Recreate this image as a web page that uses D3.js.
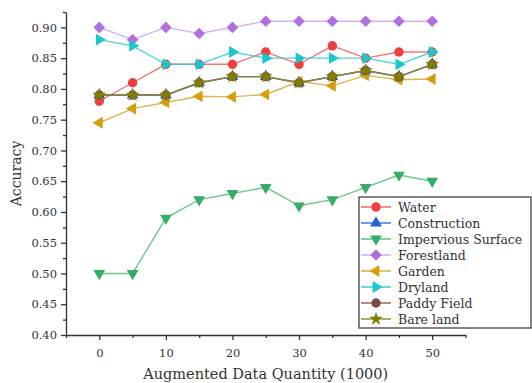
<!DOCTYPE html>
<html>
<head>
<meta charset="utf-8">
<script src="https://cdn.jsdelivr.net/npm/d3@7"></script>
<style>
  body { margin: 0; background: #fff; }
  svg { display: block; }
  text { font-family: "DejaVu Serif", "Liberation Serif", serif; fill: #333; }
</style>
</head>
<body>
<div id="chart"></div>
<script>
// data
const quantities = [0, 5, 10, 15, 20, 25, 30, 35, 40, 45, 50];
const water        = [0.78, 0.81, 0.84, 0.84, 0.84, 0.86, 0.84, 0.87, 0.85, 0.86, 0.86];
const construction = [0.79, 0.79, 0.79, 0.81, 0.82, 0.82, 0.81, 0.82, 0.83, 0.82, 0.84];
const impervious   = [0.50, 0.50, 0.59, 0.62, 0.63, 0.64, 0.61, 0.62, 0.64, 0.66, 0.65];
const forestland   = [0.90, 0.88, 0.90, 0.89, 0.90, 0.91, 0.91, 0.91, 0.91, 0.91, 0.91];
const garden       = [0.745, 0.768, 0.778, 0.788, 0.787, 0.791, 0.812, 0.805, 0.822, 0.815, 0.816];
const dryland      = [0.88, 0.87, 0.84, 0.84, 0.86, 0.85, 0.85, 0.85, 0.85, 0.84, 0.86];
const paddyField   = [0.79, 0.79, 0.79, 0.81, 0.82, 0.82, 0.81, 0.82, 0.83, 0.82, 0.84];
const bareLand     = [0.79, 0.79, 0.79, 0.81, 0.82, 0.82, 0.81, 0.82, 0.83, 0.82, 0.84];
const xTicks = [0, 10, 20, 30, 40, 50];
const yTicks = [0.40, 0.45, 0.50, 0.55, 0.60, 0.65, 0.70, 0.75, 0.80, 0.85, 0.90];

const series = [
    { name: 'Water', values: water, color: '#ef4040', line: '#f06060', symbol: d3.symbolCircle, size: 70, rotate: 0 },
    { name: 'Construction', values: construction, color: '#1f5fdc', line: '#2f6fe0', symbol: d3.symbolTriangle, size: 60, rotate: 0 },
    { name: 'Impervious Surface', values: impervious, color: '#36ad67', line: '#55bb80', symbol: d3.symbolTriangle, size: 60, rotate: 180 },
    { name: 'Forestland', values: forestland, color: '#b070e0', line: '#c9a6ee', symbol: d3.symbolSquare, size: 68, rotate: 45 },
    { name: 'Garden', values: garden, color: '#d39f0f', line: '#d8a830', symbol: d3.symbolTriangle, size: 60, rotate: -90 },
    { name: 'Dryland', values: dryland, color: '#18c8cc', line: '#30ccd0', symbol: d3.symbolTriangle, size: 60, rotate: 90 },
    { name: 'Paddy Field', values: paddyField, color: '#7a4a42', line: '#8a6058', symbol: d3.symbolCircle, size: 70, rotate: 0 },
    { name: 'Bare land', values: bareLand, color: '#808000', line: '#8a8a30', symbol: d3.symbolStar, size: 60, rotate: 0 }
];

const width = 532, height = 383;

const svg = d3.select('#chart')
    .append('svg')
    .attr('width', width)
    .attr('height', height);

const x = d3.scaleLinear().domain([-5, 55]).range([66, 465.5]);
const y = d3.scaleLinear().domain([0.40, 0.925]).range([335, 12]);

// minor ticks first, then major axes on top
svg.append('g')
    .attr('transform', `translate(0,${y(0.4)})`)
    .call(d3.axisBottom(x).tickValues(d3.range(-5, 56, 10)).tickSize(3).tickSizeOuter(0).tickFormat(''))
    .call(g => g.select('.domain').remove());

svg.append('g')
    .attr('transform', `translate(${x(-5)},0)`)
    .call(d3.axisLeft(y).tickValues(d3.range(0.425, 0.93, 0.05)).tickSize(3).tickSizeOuter(0).tickFormat(''))
    .call(g => g.select('.domain').remove());

const xAxis = svg.append('g')
    .attr('transform', `translate(0,${y(0.4)})`)
    .call(d3.axisBottom(x).tickValues(xTicks).tickSize(5).tickSizeOuter(0).tickPadding(9));

const yAxis = svg.append('g')
    .attr('transform', `translate(${x(-5)},0)`)
    .call(d3.axisLeft(y).tickValues(yTicks).tickSize(5).tickSizeOuter(0).tickPadding(4).tickFormat(d3.format('.2f')));

svg.selectAll('.tick line, .domain')
    .attr('stroke', '#333')
    .attr('stroke-width', 1.3);

[xAxis, yAxis].forEach(a => a.selectAll('text')
    .style('font-family', '"DejaVu Serif", "Liberation Serif", serif')
    .style('font-size', '11.5px')
    .attr('fill', '#333'));

// axis titles
svg.append('text')
    .attr('x', (x(-5) + x(55)) / 2)
    .attr('y', 379)
    .attr('text-anchor', 'middle')
    .style('font-size', '14.5px')
    .text('Augmented Data Quantity (1000)');

svg.append('text')
    .attr('transform', `translate(21,${(y(0.4) + y(0.925)) / 2}) rotate(-90)`)
    .attr('text-anchor', 'middle')
    .style('font-size', '14px')
    .text('Accuracy');

const line = d3.line()
    .x((d, i) => x(quantities[i]))
    .y(d => y(d));

series.forEach(s => {
    svg.append('path')
        .datum(s.values)
        .attr('fill', 'none')
        .attr('stroke', s.line)
        .attr('stroke-opacity', 0.85)
        .attr('stroke-width', 1.4)
        .attr('d', line);

    svg.selectAll(null)
        .data(s.values)
        .enter()
        .append('path')
        .attr('transform', (d, i) => `translate(${x(quantities[i])},${y(d)}) rotate(${s.rotate})`)
        .attr('d', d3.symbol().type(s.symbol).size(s.size))
        .attr('fill', s.color);
});

// legend
const legend = svg.append('g').attr('transform', 'translate(359,197)');

legend.append('rect')
    .attr('width', 172)
    .attr('height', 131)
    .attr('fill', '#fff')
    .attr('stroke', '#333')
    .attr('stroke-width', 1.2);

series.forEach((s, i) => {
    const row = legend.append('g').attr('transform', `translate(0,${10 + i * 16})`);
    row.append('line')
        .attr('x1', 2).attr('x2', 32)
        .attr('stroke', s.line)
        .attr('stroke-width', 1.4);
    row.append('path')
        .attr('transform', `translate(17,0) rotate(${s.rotate})`)
        .attr('d', d3.symbol().type(s.symbol).size(s.size))
        .attr('fill', s.color);
    row.append('text')
        .attr('x', 39)
        .attr('y', 4.5)
        .style('font-size', '12.5px')
        .text(s.name);
});
</script>
</body>
</html>
